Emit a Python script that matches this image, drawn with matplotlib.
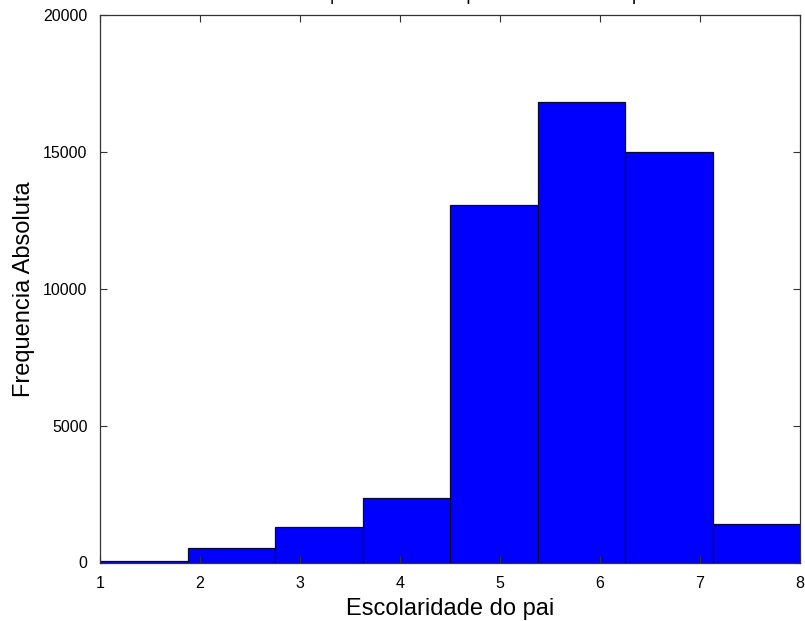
import matplotlib
matplotlib.use('Agg')
import matplotlib.pyplot as plt
import numpy as np

# Histograma da escolaridade do pai (8 classes entre 1 e 8)
limites = np.linspace(1, 8, 9)
frequencias = [60, 541, 1308, 2345, 13048, 16833, 14984, 1406]
yticks = [0, 5000, 10000, 15000, 20000]
xticks = [1, 2, 3, 4, 5, 6, 7, 8]
titulo = "Gráfico Frequencia Absoluta por Escolaridade do pai"

plt.rcParams['font.family'] = ['Liberation Sans', 'DejaVu Sans']

fig = plt.figure(figsize=(8.05, 6.21), dpi=100)
ax = fig.add_axes([100 / 805, 58.5 / 621, 700 / 805, 547.5 / 621])

ax.bar(limites[:-1], frequencias, width=np.diff(limites), align='edge',
       color='#0000ff', edgecolor='#0a0a2a', linewidth=0.9)

ax.set_xlim(1, 8)
ax.set_ylim(0, 20000)
ax.set_xticks(xticks)
ax.set_yticks(yticks)
ax.tick_params(direction='in', top=True, right=True, length=5, labelsize=11.5,
               color='#333333', width=0.8)
ax.tick_params(axis='x', pad=10)
ax.tick_params(axis='y', pad=9)
for s in ax.spines.values():
    s.set_color('#333333')
    s.set_linewidth(0.9)

ax.set_xlabel('Escolaridade do pai', fontsize=17, labelpad=5)
ax.set_ylabel('Frequencia Absoluta', fontsize=17, labelpad=6)

# titulo cortado no topo da figura
fig.text(445 / 805, 1 - 0.5 / 621, titulo, ha='center', va='baseline', fontsize=13)

fig.savefig('out.png', dpi=100)
